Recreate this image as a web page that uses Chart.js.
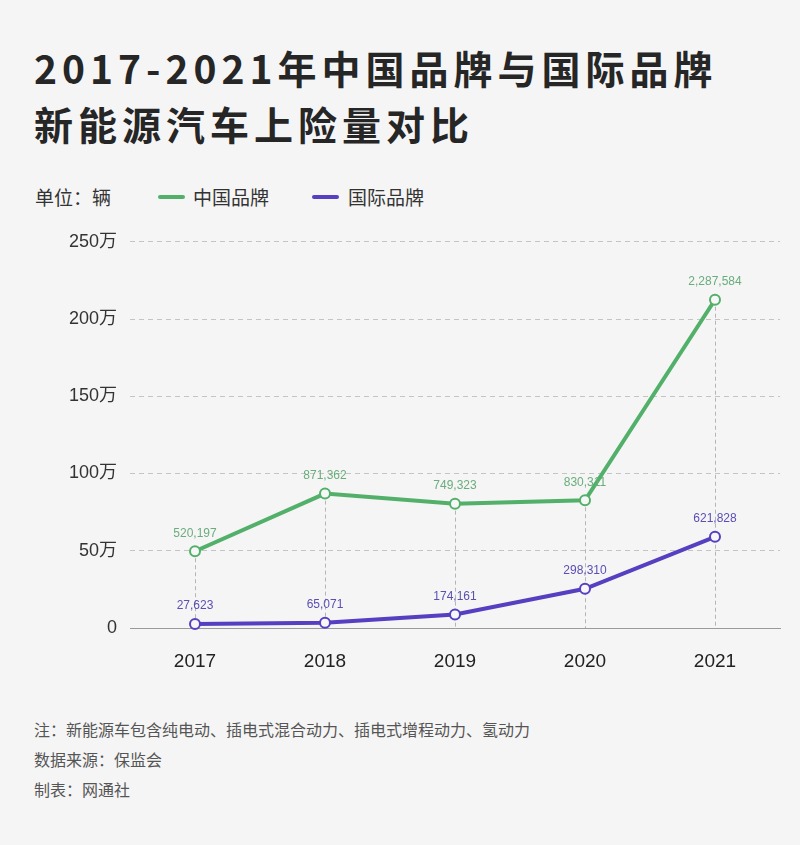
<!DOCTYPE html>
<html lang="zh">
<head>
    <meta charset="UTF-8">
    <title>中国品牌与国际品牌新能源汽车上险量对比</title>
    <script src="https://cdn.jsdelivr.net/npm/chart.js"></script>
    <style>
        body {
            margin: 0;
            width: 800px;
            height: 845px;
            background: #f5f5f5;
            font-family: "Noto Sans CJK SC", sans-serif;
            position: relative;
            overflow: hidden;
        }
        .title {
            position: absolute;
            left: 34px;
            top: 39px;
            font-size: 39px;
            font-weight: 700;
            letter-spacing: 5px;
            line-height: 56px;
            color: #262626;
            white-space: nowrap;
        }
        .legend {
            position: absolute;
            top: 182px;
            left: 35px;
            line-height: 30px;
            font-size: 19px;
            color: #333;
            white-space: nowrap;
        }
        .legend span { position: absolute; top: 0; }
        .legend i {
            position: absolute;
            top: 13px;
            width: 27px;
            height: 4px;
            border-radius: 2px;
        }
        #chartBox {
            position: absolute;
            left: 0;
            top: 218px;
            width: 800px;
            height: 460px;
        }
        .note {
            position: absolute;
            left: 34px;
            top: 714px;
            font-size: 16px;
            line-height: 30px;
            color: #555;
        }
    </style>
</head>
<body>
    <div class="title">2017-2021年中国品牌与国际品牌<br>新能源汽车上险量对比</div>

    <div class="legend">
        <span style="left:0">单位：辆</span>
        <i style="left:123px;background:#52b06a"></i>
        <span style="left:158px">中国品牌</span>
        <i style="left:277px;background:#563fc0"></i>
        <span style="left:313px">国际品牌</span>
    </div>

    <div id="chartBox">
        <canvas id="carChart" width="800" height="460"></canvas>
    </div>

    <div class="note">
        注：新能源车包含纯电动、插电式混合动力、插电式增程动力、氢动力<br>
        数据来源：保监会<br>
        制表：网通社
    </div>

    <script>
        const years = ['2017', '2018', '2019', '2020', '2021'];
        // point heights as drawn in the picture (辆)
        const chinaValues = [497000, 870000, 805000, 827000, 2125000];
        const intlValues = [26000, 34000, 88000, 254000, 590000];
        // numbers printed next to the points
        const chinaLabels = ['520,197', '871,362', '749,323', '830,311', '2,287,584'];
        const intlLabels = ['27,623', '65,071', '174,161', '298,310', '621,828'];

        const green = '#52b06a';
        const purple = '#563fc0';

        // dashed drop line from the highest point of each year to the axis
        const dropLines = {
            id: 'dropLines',
            beforeDatasetsDraw(chart) {
                const ctx = chart.ctx;
                const x = chart.scales.x;
                const y = chart.scales.y;
                ctx.save();
                ctx.strokeStyle = '#b5b5b5';
                ctx.lineWidth = 1;
                ctx.setLineDash([4, 3]);
                years.forEach((yr, i) => {
                    const top = Math.max(chinaValues[i], intlValues[i]);
                    const px = Math.round(x.getPixelForValue(i)) + 0.5;
                    ctx.beginPath();
                    ctx.moveTo(px, y.getPixelForValue(top));
                    ctx.lineTo(px, y.getPixelForValue(0));
                    ctx.stroke();
                });
                ctx.restore();
            }
        };

        // value labels above each point
        const valueLabels = {
            id: 'valueLabels',
            afterDatasetsDraw(chart) {
                const ctx = chart.ctx;
                ctx.save();
                ctx.font = '12px "Liberation Sans", Arial, sans-serif';
                ctx.textAlign = 'center';
                ctx.textBaseline = 'middle';
                const sets = [[chinaLabels, '#6aad7c'], [intlLabels, '#5a4fb3']];
                chart.data.datasets.forEach((ds, d) => {
                    const meta = chart.getDatasetMeta(d);
                    ctx.fillStyle = sets[d][1];
                    meta.data.forEach((pt, i) => {
                        ctx.fillText(sets[d][0][i], pt.x, pt.y - 18);
                    });
                });
                ctx.restore();
            }
        };

        const ctx = document.getElementById('carChart').getContext('2d');
        new Chart(ctx, {
            type: 'line',
            data: {
                labels: years,
                datasets: [{
                    label: '中国品牌',
                    data: chinaValues,
                    borderColor: green,
                    backgroundColor: '#f7f7f7',
                    borderWidth: 4,
                    pointRadius: 5,
                    pointBorderWidth: 2,
                    pointBackgroundColor: '#f7f7f7',
                    pointBorderColor: green,
                    tension: 0,
                    clip: false
                }, {
                    label: '国际品牌',
                    data: intlValues,
                    borderColor: purple,
                    backgroundColor: '#f7f7f7',
                    borderWidth: 4,
                    pointRadius: 5,
                    pointBorderWidth: 2,
                    pointBackgroundColor: '#f7f7f7',
                    pointBorderColor: purple,
                    tension: 0,
                    clip: false
                }]
            },
            options: {
                responsive: false,
                animation: false,
                devicePixelRatio: 1,
                layout: {
                    padding: { top: 0, right: 20, bottom: 0, left: 0 }
                },
                plugins: {
                    legend: { display: false },
                    tooltip: { enabled: false }
                },
                scales: {
                    x: {
                        offset: true,
                        grid: { display: false, drawTicks: false },
                        border: { display: true, color: '#9a9a9a', width: 1 },
                        ticks: {
                            color: '#222',
                            padding: 22,
                            font: { family: '"Liberation Sans", Arial, sans-serif', size: 19 }
                        },
                        afterFit(scale) { scale.height = 50; }
                    },
                    y: {
                        min: 0,
                        max: 2500000,
                        grid: { color: '#c4c4c4', lineWidth: 1, drawTicks: false },
                        border: { display: false, dash: [5, 4] },
                        ticks: {
                            stepSize: 500000,
                            color: '#333',
                            padding: 13,
                            font: { family: '"Liberation Sans", "Noto Sans CJK SC", sans-serif', size: 18 },
                            callback: v => v === 0 ? '0' : (v / 10000) + '万'
                        },
                        afterFit(scale) { scale.width = 130; }
                    }
                }
            },
            plugins: [dropLines, valueLabels]
        });
    </script>
</body>
</html>
